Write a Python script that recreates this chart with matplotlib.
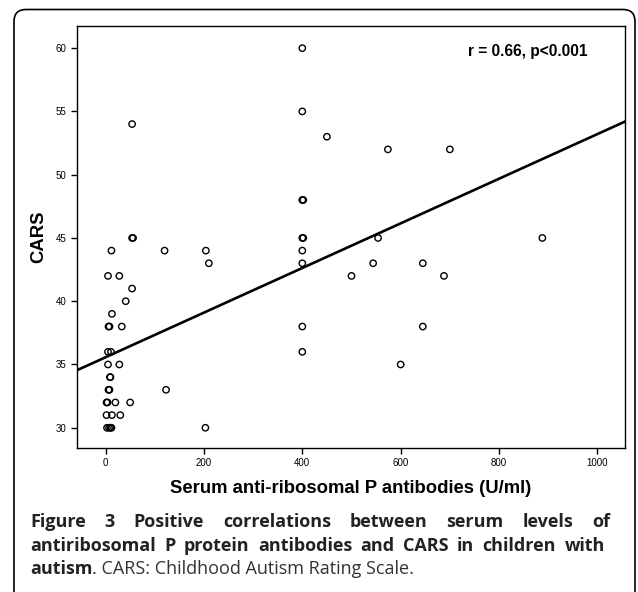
import matplotlib
matplotlib.use("Agg")
import matplotlib.pyplot as plt
from matplotlib.patches import FancyBboxPatch

# values
antibody = [400, 400, 450, 574, 700, 400, 402, 400, 402, 554, 888, 400, 400, 544, 645,
            500, 688, 400, 645, 400, 600,
            54, 54, 56, 12, 120, 204, 210, 5, 28, 54, 41, 13, 6, 8, 33, 5, 11, 5, 28,
            9, 10, 6, 8, 123, 2, 4, 20, 50, 2, 13, 30, 3, 7, 10, 12, 203]
cars = [60, 55, 53, 52, 52, 48, 48, 45, 45, 45, 45, 44, 43, 43, 43,
        42, 42, 38, 38, 36, 35,
        54, 45, 45, 44, 44, 44, 43, 42, 42, 41, 40, 39, 38, 38, 38, 36, 36, 35, 35,
        34, 34, 33, 33, 33, 32, 32, 32, 32, 31, 31, 31, 30, 30, 30, 30, 30]

# regression line
fit_intercept = 35.57
fit_slope = 0.01764

x_ticks = [0, 200, 400, 600, 800, 1000]
y_ticks = [30, 35, 40, 45, 50, 55, 60]

W, H = 638, 592
fig = plt.figure(figsize=(W / 100, H / 100), dpi=100)

# outer rounded frame, in pixel units
bg = fig.add_axes([0, 0, 1, 1], zorder=0)
bg.set_xlim(0, W)
bg.set_ylim(H, 0)
bg.axis("off")
bg.add_patch(FancyBboxPatch((14, 9.5), 621, 640, boxstyle="round,pad=0,rounding_size=12",
                            facecolor="white", edgecolor="black", linewidth=1.2))

ax = fig.add_axes([77 / W, 1 - 448 / H, (625 - 77) / W, (448 - 26) / H], zorder=1)
ax.scatter(antibody, cars, s=21, facecolors="none", edgecolors="black", linewidths=1.0, zorder=3)

xlim = (-58, 1056)
ax.plot(xlim, [fit_intercept + fit_slope * v for v in xlim], color="black", lw=1.9, zorder=2)
ax.set_xlim(*xlim)
ax.set_ylim(28.4, 61.75)

ax.set_xticks(x_ticks)
ax.set_yticks(y_ticks)
ax.tick_params(direction="out", length=4.5, width=1, labelsize=7, pad=3)
for lab in ax.get_xticklabels() + ax.get_yticklabels():
    lab.set_family("Liberation Sans")
for sp in ax.spines.values():
    sp.set_linewidth(1.0)

ax.set_xlabel("Serum anti-ribosomal P antibodies (U/ml)", family="Liberation Sans",
              fontsize=13.3, fontweight="bold", labelpad=8)
ax.set_ylabel("CARS", family="Liberation Sans", fontsize=13.3, fontweight="bold", labelpad=6)
ax.text(0.931, 0.939, "r = 0.66, p<0.001", transform=ax.transAxes, ha="right", va="center",
        family="Liberation Sans", fontsize=11.2, fontweight="bold")

# caption, justified lines
cap_font = "Open Sans"
cap_size = 13
renderer = fig.canvas.get_renderer()


def justify(words, ypix, x0, x1, weight):
    texts = [fig.text(0, 1 - ypix / H, w, family=cap_font, fontsize=cap_size,
                      fontweight=weight, color="#222222", va="center") for w in words]
    widths = [t.get_window_extent(renderer).width for t in texts]
    gap = (x1 - x0 - sum(widths)) / (len(words) - 1)
    x = x0
    for t, w in zip(texts, widths):
        t.set_x(x / W)
        x += w + gap


justify("Figure 3 Positive correlations between serum levels of".split(), 522, 30, 610, "bold")
justify("antiribosomal P protein antibodies and CARS in children with".split(), 546, 30, 605, "bold")
t1 = fig.text(30 / W, 1 - 569 / H, "autism", family=cap_font, fontsize=cap_size,
              fontweight="bold", color="#222222", va="center")
w1 = t1.get_window_extent(renderer).width
fig.text((30 + w1) / W, 1 - 569 / H, ". CARS: Childhood Autism Rating Scale.", family=cap_font,
         fontsize=cap_size, color="#333333", va="center")

fig.savefig("out.png", dpi=100)
